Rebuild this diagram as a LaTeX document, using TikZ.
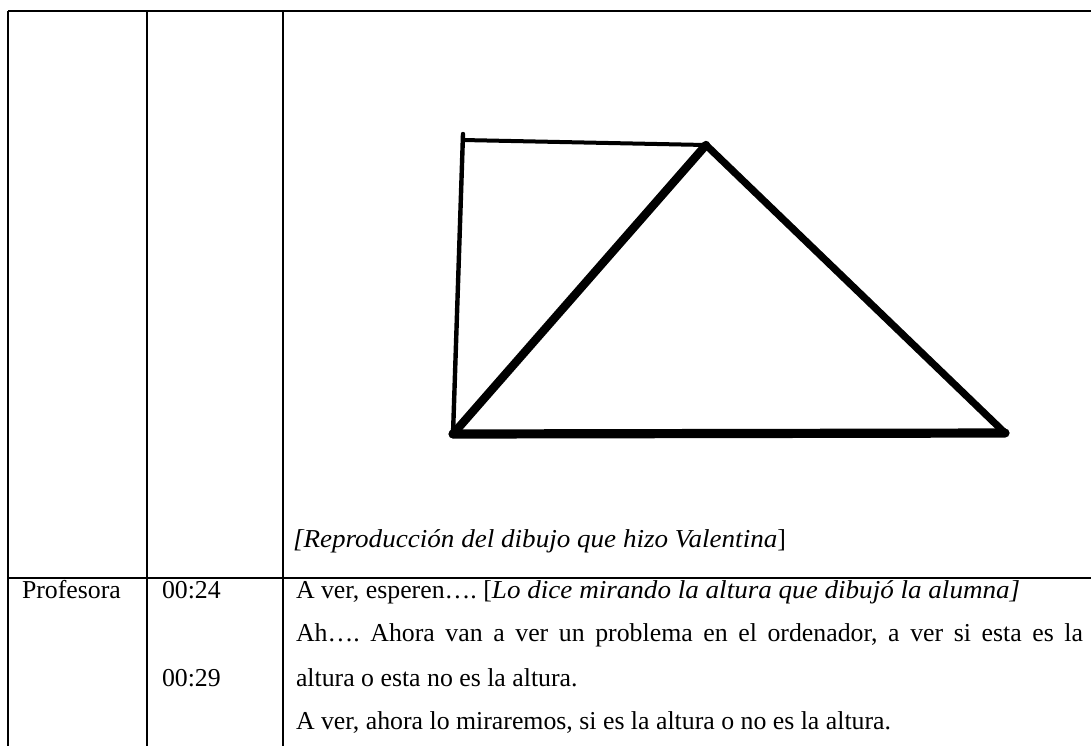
\documentclass[tikz,border=0pt]{standalone}
\usepackage{fontspec}
\setmainfont{Liberation Serif}
\newcommand{\itw}[1]{\scalebox{1.05}[1]{\itshape #1}}
\begin{document}
\frenchspacing
\begin{tikzpicture}[x=0.5pt,y=-0.5pt,
  rule/.style={line width=1pt,black},
  pen/.style={black,line cap=round,line join=round},
  txt/.style={anchor=base west,inner sep=0pt,outer sep=0pt,font=\fontsize{12.9pt}{15pt}\selectfont}]
\useasboundingbox[fill=white] (0,0) rectangle (1091,746);
% table grid
\coordinate (tl) at (8,11);
\coordinate (tr) at (1091,11);
\coordinate (bl) at (8,746);
\coordinate (c1t) at (147,11);
\coordinate (c1b) at (147,746);
\coordinate (c2t) at (282.5,11);
\coordinate (c2b) at (282.5,746);
\coordinate (sl) at (8,578);
\coordinate (sr) at (1091,578);
\draw[rule] (tl) -- (tr);
\draw[rule] (tl) -- (bl);
\draw[rule] (c1t) -- (c1b);
\draw[rule] (c2t) -- (c2b);
\draw[rule] (sl) -- (sr);
% drawing
\coordinate (A) at (453,434);
\coordinate (B) at (1005,433);
\coordinate (C) at (706,145);
\coordinate (D) at (463,134);
\coordinate (E) at (463,140);
\draw[pen,line width=2.2pt] (D) -- (A);
\draw[pen,line width=2pt] (E) -- (C);
\draw[pen,line width=4.2pt] (A) -- (C);
\draw[pen,line width=3.6pt] (C) -- (B);
\draw[pen,line width=4.6pt] (A) -- (B);
% texts
\node[txt] (cap) at (293,547) {\itw{[Reproducción del dibujo que hizo Valentina}]};
\node[txt] (prof) at (22,598) {Profesora};
\node[txt] (t1) at (162,598) {00:24};
\node[txt] (t2) at (162,686) {00:29};
\node[txt] (l1) at (296,598) {A ver, esperen…. [\itw{Lo dice mirando la altura que dibujó la alumna]}};
\node[txt] (l2) at (296,641) {\makebox[393.5pt][s]{Ah…. Ahora van a ver un problema en el ordenador, a ver si esta es la}};
\node[txt] (l3) at (296,686) {altura o esta no es la altura.};
\node[txt] (l4) at (296,729) {A ver, ahora lo miraremos, si es la altura o no es la altura.};
\end{tikzpicture}
\end{document}
